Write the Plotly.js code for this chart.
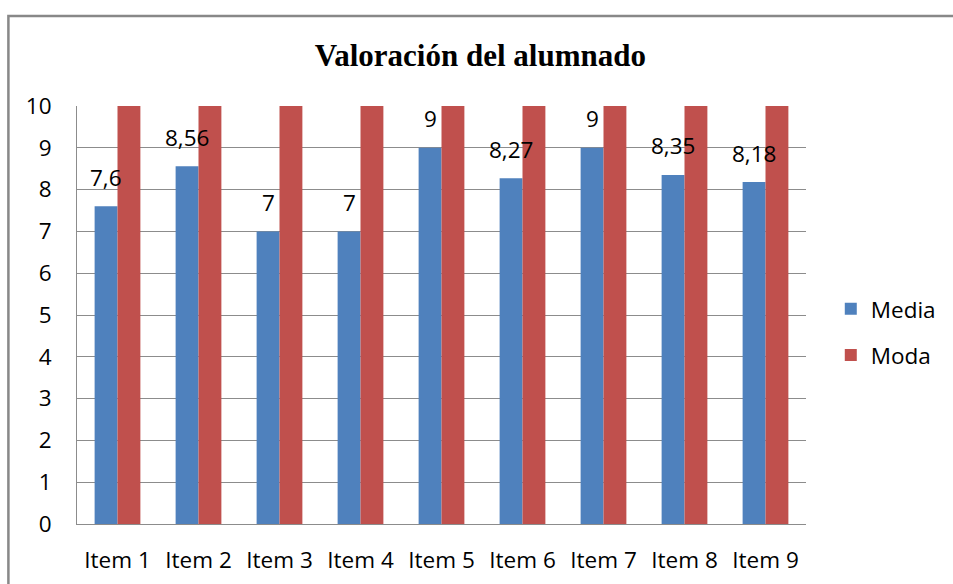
<!DOCTYPE html>
<html>
<head>
<meta charset="utf-8">
<script src="https://cdn.plot.ly/plotly-3.0.1.min.js"></script>
<style>
html,body{margin:0;padding:0;background:#fff;}
#chart{width:953px;height:584px;}
</style>
</head>
<body>
<div id="chart"></div>
<script>
var categories = ["Item 1","Item 2","Item 3","Item 4","Item 5","Item 6","Item 7","Item 8","Item 9"];
var media = [7.6, 8.56, 7, 7, 9, 8.27, 9, 8.35, 8.18];
var moda = [10, 10, 10, 10, 10, 10, 10, 10, 10];
var mediaLabels = ["7,6","8,56","7","7","9","8,27","9","8,35","8,18"];
var yTicks = [0,1,2,3,4,5,6,7,8,9,10];

var FONT = "Open Sans, DejaVu Sans, sans-serif";

var traces = [
  {type:"bar", name:"Media", x:categories, y:media, marker:{color:"#4F81BD"}, legendgroup:"a", hoverinfo:"none"},
  {type:"bar", name:"Moda", x:categories, y:moda, marker:{color:"#C0504D"}, legendgroup:"b", hoverinfo:"none"}
];

var annotations = categories.map(function(c,i){
  return {x:c, y:media[i], xref:"x", yref:"y", text:mediaLabels[i], showarrow:false,
          xshift:-11.5, yshift:29, yanchor:"middle", xanchor:"center",
          font:{family:FONT, size:22.5, color:"#000"}};
});

var layout = {
  width:953, height:584,
  margin:{l:77, r:143, t:106, b:60},
  paper_bgcolor:"#fff", plot_bgcolor:"#fff",
  barmode:"group", bargap:0.435, bargroupgap:0,
  title:{text:"<b>Valoración del alumnado</b>", x:0.504, xanchor:"center", y:0.905, yanchor:"middle",
         font:{family:"Liberation Serif, Times New Roman, serif", size:31, color:"#000"}},
  xaxis:{type:"category", showline:true, linecolor:"#8c8c8c", linewidth:1, showgrid:false,
         ticks:"outside", ticklen:16, tickcolor:"rgba(0,0,0,0)",
         tickfont:{family:FONT, size:22.5, color:"#000"}, fixedrange:true},
  yaxis:{range:[0,10], tickvals:yTicks, ticktext:yTicks.map(String), showgrid:true, gridcolor:"#8c8c8c", gridwidth:1,
         showline:true, linecolor:"#8c8c8c", linewidth:1, zeroline:false,
         ticks:"outside", ticklen:20, tickcolor:"rgba(0,0,0,0)",
         tickfont:{family:FONT, size:22.5, color:"#000"}, fixedrange:true},
  legend:{x:1.034, xanchor:"left", y:0.459, yanchor:"middle", traceorder:"grouped", tracegroupgap:14,
          font:{family:FONT, size:22.5, color:"#000"}, bgcolor:"rgba(0,0,0,0)"},
  annotations:annotations,
  shapes:[{type:"path", xref:"paper", yref:"paper",
           path:"M -0.0941,-0.2 L -0.0941,1.2153 L 1.3,1.2153",
           line:{color:"#888888", width:2.5}}]
};

Plotly.newPlot("chart", traces, layout, {staticPlot:true});
</script>
</body>
</html>
